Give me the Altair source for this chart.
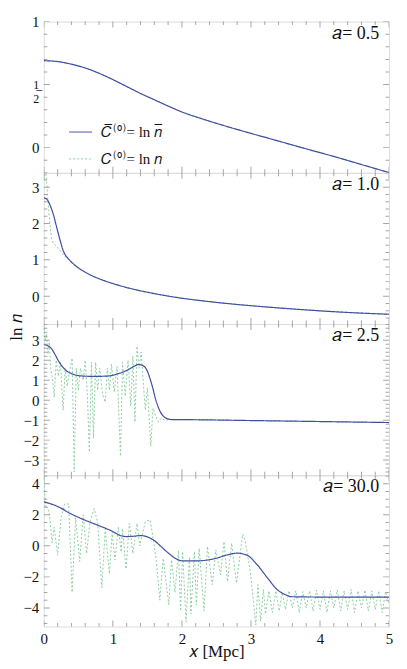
import altair as alt
import pandas as pd
import numpy as np

W, H = 347, 152
FONT = "Liberation Serif"
BLUE = "#3f4ea0"
GREEN = "#8ccfa0"
FRAME = "#808080"

panel_labels = ["𝑎= 0.5", "𝑎= 1.0", "𝑎= 2.5", "𝑎= 30.0"]
series_names = ["𝐶̅⁽⁰⁾= ln 𝑛̅", "𝐶⁽⁰⁾= ln 𝑛"]
y_domains = [[-0.2, 1.0], [-0.77, 3.4], [-3.76, 3.81], [-5.2, 4.55]]
y_major = [[0, 0.5, 1], [0, 1, 2, 3], [-3, -2, -1, 0, 1, 2, 3], [-4, -2, 0, 2, 4]]
y_minor_step = [0.1, 0.2, 0.2, 0.5]
x_major = [0, 1, 2, 3, 4, 5]
x_minor_step = 0.2

# panel 1 (a = 0.5)
blue_x1 = [0, 0.2, 0.4, 0.6, 0.8, 1.0, 1.2, 1.4, 1.6, 1.8, 2.0, 2.3, 2.6, 3.0, 3.4, 3.8, 4.2, 4.6, 5.0]
blue_y1 = [0.69, 0.683, 0.662, 0.632, 0.59, 0.54, 0.485, 0.43, 0.38, 0.33, 0.283, 0.227, 0.176,
           0.113, 0.052, -0.01, -0.07, -0.134, -0.198]
green_x1 = blue_x1
green_y1 = blue_y1

# panel 2 (a = 1.0)
blue_x2 = [0, 0.04, 0.09, 0.14, 0.19, 0.24, 0.28, 0.31, 0.35, 0.4, 0.45, 0.5, 0.6, 0.7, 0.9, 1.1,
           1.3, 1.6, 1.9, 2.3, 2.8, 3.3, 3.8, 4.3, 5.0]
blue_y2 = [2.71, 2.68, 2.51, 2.24, 1.87, 1.51, 1.26, 1.14, 1.04, 0.94, 0.85, 0.78, 0.66, 0.56,
           0.41, 0.29, 0.19, 0.07, -0.03, -0.13, -0.23, -0.31, -0.38, -0.44, -0.5]
green_x2 = [0, 0.02, 0.035, 0.05, 0.07, 0.09, 0.11, 0.14, 0.18, 0.22, 0.26, 0.30, 0.35, 0.4, 0.45,
            0.5, 0.6, 0.7, 0.9, 1.1, 1.3, 1.6, 1.9, 2.3, 2.8, 3.3, 3.8, 4.3, 5.0]
green_y2 = [3.2, 3.45, 3.3, 2.9, 2.4, 1.95, 1.6, 1.45, 1.38, 1.3, 1.2, 1.1, 1.04, 0.94, 0.85,
            0.78, 0.66, 0.56, 0.41, 0.29, 0.19, 0.07, -0.03, -0.13, -0.23, -0.31, -0.38, -0.44, -0.5]

# panel 3 (a = 2.5)
blue_x3 = [0, 0.06, 0.115, 0.16, 0.21, 0.26, 0.31, 0.4, 0.55, 0.74, 0.93, 1.08, 1.22, 1.3, 1.37,
           1.43, 1.49, 1.56, 1.63, 1.7, 1.77, 1.85, 2.2, 3.0, 4.0, 5.0]
blue_y3 = [2.78, 2.72, 2.56, 2.3, 1.98, 1.72, 1.52, 1.33, 1.21, 1.19, 1.21, 1.33, 1.52, 1.68, 1.78,
           1.74, 1.52, 0.83, -0.08, -0.66, -0.9, -0.97, -0.98, -1.02, -1.07, -1.12]
green_x3 = [0, 0.02, 0.04, 0.06, 0.08, 0.1, 0.12, 0.15, 0.18, 0.21, 0.24, 0.28, 0.31, 0.34, 0.37,
            0.41, 0.44, 0.47, 0.5, 0.53, 0.57, 0.6, 0.63, 0.66, 0.69, 0.72, 0.75, 0.78, 0.81,
            0.85, 0.89, 0.92, 0.95, 0.98, 1.02, 1.06, 1.11, 1.14, 1.18, 1.22, 1.26, 1.29, 1.32,
            1.35, 1.38, 1.41, 1.44, 1.47, 1.5, 1.55, 1.58, 1.62, 1.66, 1.7, 1.75, 1.85, 2.2, 3.0,
            4.0, 5.0]
green_y3 = [3.6, 3.0, 3.3, 2.3, 2.9, 1.6, 1.2, 0.15, 2.0, 1.2, 1.9, -0.5, 1.6, 0.7, 1.4,
            2.1, -3.6, 1.6, 0.5, 1.6, 1.0, 2.0, 0.3, -2.6, 1.9, -1.9, 1.9, 0.5, 1.6,
            0.3, -0.1, 1.6, 0.5, 1.8, 0.4, 1.7, -2.8, 1.9, 0.2, 2.0, -0.3, 2.2, -1.1,
            2.7, 1.6, 2.4, 0.9, -0.5, 0.6, -2.3, -0.4, -0.8, -1.1, -0.9, -1.0, -0.97, -0.98, -1.02,
            -1.07, -1.12]

# panel 4 (a = 30.0)
blue_x4 = [0, 0.2, 0.4, 0.6, 0.8, 1.0, 1.1, 1.2, 1.3, 1.4, 1.5, 1.6, 1.7, 1.8, 1.9, 2.0, 2.2, 2.47,
           2.66, 2.8, 2.95, 3.09, 3.24, 3.38, 3.5, 3.6, 4.0, 5.0]
blue_y4 = [2.84, 2.54, 2.05, 1.65, 1.30, 0.92, 0.68, 0.6, 0.62, 0.66, 0.58, 0.34, -0.05, -0.45,
           -0.79, -0.96, -0.97, -0.83, -0.58, -0.47, -0.62, -1.22, -2.07, -2.82, -3.15, -3.28,
           -3.3, -3.3]
green_x4 = [0, 0.03, 0.05, 0.08, 0.12, 0.15, 0.2, 0.25, 0.3, 0.36, 0.41, 0.46, 0.52, 0.57, 0.62,
            0.67, 0.73, 0.78, 0.84, 0.89, 0.95, 0.99, 1.03, 1.08, 1.12, 1.14, 1.19, 1.24, 1.29,
            1.35, 1.39, 1.47, 1.54, 1.59, 1.63, 1.68, 1.73, 1.81, 1.85, 1.9, 1.95, 1.98, 2.01,
            2.06, 2.11, 2.13, 2.18, 2.21, 2.25, 2.32, 2.37, 2.44, 2.49, 2.56, 2.61, 2.66, 2.72,
            2.79, 2.88, 2.92, 2.95, 2.99, 3.02, 3.07, 3.10, 3.14, 3.18, 3.21, 3.26, 3.31, 3.36,
            3.41, 3.45, 3.5, 3.55, 3.6, 3.65, 3.7, 3.75, 3.8, 3.85, 3.9, 3.95, 4.0, 4.05, 4.1,
            4.15, 4.2, 4.25, 4.3, 4.35, 4.4, 4.45, 4.5, 4.55, 4.6, 4.65, 4.7, 4.75, 4.8, 4.85,
            4.9, 4.95, 5.0]
green_y4 = [4.4, 2.4, 2.5, 2.1, 0.2, 1.2, -0.6, 1.8, 2.7, 2.7, -3.0, 1.8, -1.0, 2.0, -0.5,
            1.6, 2.4, 1.5, -2.7, 1.1, -1.8, 0.9, -0.9, 1.2, -0.4, 1.1, -1.5, 1.45, -0.5,
            1.45, 0.0, 1.56, 1.67, 0.3, -1.0, -3.5, -0.8, -3.8, -0.9, -3.0, -0.3, -4.2, -0.37,
            -4.9, -0.7, -4.4, -0.37, -3.8, -0.15, -4.2, -0.04, -2.5, -0.26, -1.86, 0.28, -2.3, 0.17,
            -2.4, 0.75, 0.28, -0.6, -1.65, -2.9, -5.1, -2.5, -4.85, -2.8, -4.4, -2.9, -4.3, -2.9,
            -4.2, -3.0, -4.1, -2.9, -4.0, -2.9, -4.3, -2.95, -4.0, -2.9, -4.2, -2.85, -4.1, -2.9, -4.3,
            -2.9, -4.0, -2.85, -4.2, -2.9, -4.1, -2.8, -4.3, -2.9, -4.0, -2.85, -4.2, -2.9, -4.1, -2.9,
            -4.3, -2.95, -3.8]

blues = [(blue_x1, blue_y1), (blue_x2, blue_y2), (blue_x3, blue_y3), (blue_x4, blue_y4)]
greens = [(green_x1, green_y1), (green_x2, green_y2), (green_x3, green_y3), (green_x4, green_y4)]


def minor_ticks(lo, hi, step, major):
    vals = np.round(np.arange(np.ceil(lo / step) * step, hi + 1e-9, step), 6)
    return [float(v) for v in vals if not any(abs(v - m) < 1e-6 for m in major)]


def panel(i):
    lo, hi = y_domains[i]
    xs = alt.Scale(domain=[0, 5], nice=False, zero=False)
    ys = alt.Scale(domain=[lo, hi], nice=False, zero=False)
    bx, by = blues[i]
    gx, gy = greens[i]
    df_b = pd.DataFrame({"x": bx, "y": by, "s": series_names[0]})
    df_g = pd.DataFrame({"x": gx, "y": gy, "s": series_names[1]})

    if i == 0:
        leg = alt.Legend(orient="none", legendX=25, legendY=99, title=None, symbolType="stroke",
                         symbolSize=529, symbolStrokeWidth=1, labelFont=FONT, labelFontSize=15,
                         labelColor="#111", labelOffset=8, rowPadding=7, padding=0)
    else:
        leg = None
    color = alt.Color("s:N", scale=alt.Scale(domain=series_names, range=[BLUE, GREEN]), legend=leg)
    dash = alt.StrokeDash("s:N", scale=alt.Scale(domain=series_names, range=[[1, 0], [2, 2]]),
                          legend=leg)

    yaxis_kw = dict(values=y_major[i], ticks=False, domain=False, grid=False, labelFont=FONT,
                    labelFontSize=15, labelColor="#111", labelPadding=5, title=None, format="~g")
    if i == 0:
        yaxis_kw["labelExpr"] = "datum.value == 0.5 ? ['1\u0332', '2'] : datum.label"
        yaxis_kw["labelLineHeight"] = 14
        yaxis_kw["labelFontSize"] = {"condition": {"test": "datum.value == 0.5", "value": 12},
                                     "value": 15}
    if i == 2:
        yaxis_kw.update(title="ln 𝑛", titleFont=FONT, titleFontSize=17, titleFontWeight="normal",
                        titleColor="#111", titleX=-27, titleY=3, titleAngle=270,
                        titleAlign="center", titleBaseline="middle")
    yaxis = alt.Axis(**yaxis_kw)

    if i == 3:
        xaxis = alt.Axis(values=x_major, ticks=False, domain=False, grid=False, labelFont=FONT,
                         labelFontSize=15, labelColor="#111", labelPadding=5, labelFlush=False,
                         format="d", title="𝑥 [Mpc]", titleFont=FONT, titleFontSize=17,
                         titleFontWeight="normal", titleColor="#111", titlePadding=-3)
    else:
        xaxis = None

    X = lambda f: alt.X(f, scale=xs, axis=xaxis)
    Y = lambda f: alt.Y(f, scale=ys, axis=yaxis)

    green = alt.Chart(df_g).mark_line(strokeWidth=1, clip=True).encode(
        x=X("x:Q"), y=Y("y:Q"), color=color, strokeDash=dash)
    blue = alt.Chart(df_b).mark_line(strokeWidth=1.2, clip=True, interpolate="monotone").encode(
        x=X("x:Q"), y=Y("y:Q"), color=color, strokeDash=dash)

    ymaj = y_major[i]
    ymin = minor_ticks(lo, hi, y_minor_step[i], ymaj)
    df_ty = pd.DataFrame({"v": ymaj + ymin, "k": ["major"] * len(ymaj) + ["minor"] * len(ymin)})
    xmin = minor_ticks(0, 5, x_minor_step, x_major)
    df_tx = pd.DataFrame({"v": x_major + xmin, "k": ["major"] * len(x_major) + ["minor"] * len(xmin)})
    size = alt.Size("k:N", scale=alt.Scale(domain=["major", "minor"], range=[12, 7]), legend=None)

    layers = [green, blue]
    for xd in (0, 5):
        layers.append(alt.Chart(df_ty).mark_tick(color=FRAME, thickness=1, clip=True,
                                                 orient="horizontal").encode(
            x=alt.XDatum(xd, type="quantitative", scale=xs, axis=xaxis),
            y=Y("v:Q"), size=size))
    for yd in (lo, hi):
        layers.append(alt.Chart(df_tx).mark_tick(color=FRAME, thickness=1, clip=True,
                                                 orient="vertical").encode(
            x=X("v:Q"),
            y=alt.YDatum(yd, type="quantitative", scale=ys, axis=yaxis), size=size))

    lab = alt.Chart(pd.DataFrame({"t": [panel_labels[i]]})).mark_text(
        align="right", baseline="top", dx=-10, dy=3, font=FONT, fontSize=18, color="#111").encode(
        x=alt.XDatum(5, type="quantitative", scale=xs, axis=xaxis),
        y=alt.YDatum(hi, type="quantitative", scale=ys, axis=yaxis),
        text="t:N")
    layers.append(lab)
    return alt.layer(*layers).properties(width=W, height=H)


chart = alt.vconcat(*[panel(i) for i in range(4)], spacing=0, bounds="flush").resolve_scale(
    color="independent", strokeDash="independent", size="independent"
).resolve_legend(color="independent", strokeDash="independent", size="independent").properties(
    padding={"left": -1, "top": 4, "right": 5, "bottom": 0}
).configure_view(stroke=FRAME, strokeWidth=1).configure(background="white")

chart.save("out.html", embed_options={"renderer": "svg", "actions": False})
